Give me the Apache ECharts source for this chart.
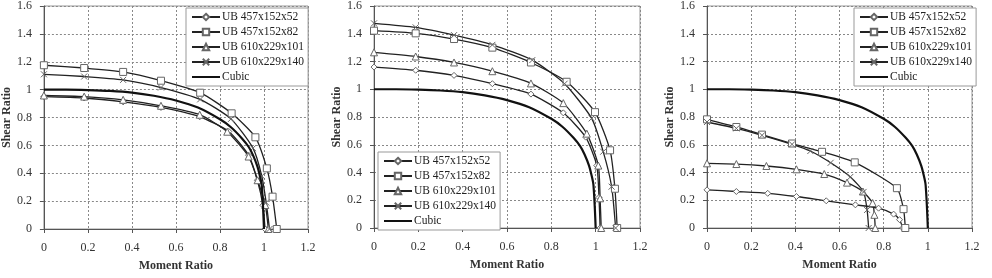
<!DOCTYPE html>
<html>
<head>
<meta charset="utf-8">
<script src="https://cdn.jsdelivr.net/npm/echarts@6/dist/echarts.min.js"></script>
<style>
  html, body { margin: 0; padding: 0; background: #fff; }
  #chart { width: 992px; height: 278px; }
</style>
</head>
<body>
<div id="chart"></div>
<script>
// series names (shared by the three panels)
const seriesNames = ['UB 457x152x52', 'UB 457x152x82', 'UB 610x229x101', 'UB 610x229x140', 'Cubic']

// cubic interaction curve
const cubicMoment = [0, 0.1, 0.2, 0.3, 0.4, 0.5, 0.6, 0.7, 0.8, 0.85, 0.9, 0.93, 0.95, 0.97, 0.98, 0.99, 1.0]
const cubicShear = [1, 1, 0.997, 0.991, 0.979, 0.956, 0.922, 0.871, 0.787, 0.73, 0.65, 0.59, 0.53, 0.45, 0.39, 0.31, 0]

// panel 1
const p1Moment52 = [0, 0.183, 0.36, 0.532, 0.708, 0.84, 0.93, 0.97, 0.995, 1.005]
const p1Shear52 = [0.95, 0.94, 0.912, 0.872, 0.805, 0.70, 0.53, 0.35, 0.17, 0]
const p1Moment82 = [0, 0.183, 0.36, 0.532, 0.71, 0.853, 0.961, 1.013, 1.039, 1.058]
const p1Shear82 = [1.175, 1.155, 1.127, 1.064, 0.978, 0.83, 0.658, 0.435, 0.232, 0]
const p1Moment101 = [0, 0.183, 0.36, 0.532, 0.708, 0.833, 0.93, 0.971, 1.006, 1.02]
const p1Shear101 = [0.958, 0.95, 0.927, 0.884, 0.82, 0.698, 0.52, 0.35, 0.172, 0]
const p1Moment140 = [0, 0.183, 0.36, 0.532, 0.71, 0.85, 0.95, 0.99, 1.01, 1.025]
const p1Shear140 = [1.11, 1.094, 1.07, 1.015, 0.93, 0.79, 0.58, 0.38, 0.19, 0]

// panel 2
const p2Moment52 = [0, 0.188, 0.361, 0.534, 0.708, 0.854, 0.955, 1.005, 1.015, 1.02]
const p2Shear52 = [1.16, 1.137, 1.10, 1.04, 0.965, 0.83, 0.655, 0.45, 0.22, 0]
const p2Moment82 = [0, 0.188, 0.361, 0.534, 0.708, 0.869, 0.997, 1.065, 1.087, 1.097]
const p2Shear82 = [1.422, 1.403, 1.362, 1.30, 1.193, 1.054, 0.835, 0.56, 0.283, 0]
const p2Moment101 = [0, 0.188, 0.361, 0.534, 0.708, 0.854, 0.96, 1.012, 1.02, 1.025]
const p2Shear101 = [1.266, 1.236, 1.193, 1.13, 1.042, 0.90, 0.68, 0.45, 0.214, 0]
const p2Moment140 = [0, 0.188, 0.361, 0.534, 0.714, 0.86, 0.982, 1.034, 1.072, 1.09]
const p2Shear140 = [1.475, 1.446, 1.39, 1.32, 1.21, 1.04, 0.79, 0.55, 0.298, 0]

// panel 3
const p3Moment52 = [0, 0.133, 0.275, 0.405, 0.54, 0.672, 0.777, 0.845, 0.872, 0.886]
const p3Shear52 = [0.275, 0.263, 0.25, 0.227, 0.196, 0.167, 0.143, 0.10, 0.06, 0]
const p3Moment82 = [0, 0.133, 0.249, 0.385, 0.521, 0.669, 0.86, 0.89, 0.898]
const p3Shear82 = [0.783, 0.728, 0.673, 0.609, 0.549, 0.473, 0.287, 0.136, 0]
const p3Moment101 = [0, 0.133, 0.269, 0.405, 0.531, 0.634, 0.706, 0.75, 0.758, 0.762]
const p3Shear101 = [0.466, 0.461, 0.447, 0.423, 0.389, 0.327, 0.263, 0.18, 0.095, 0]
const p3Moment140 = [0, 0.133, 0.249, 0.385, 0.468, 0.56, 0.649, 0.709, 0.725, 0.732]
const p3Shear140 = [0.764, 0.718, 0.668, 0.603, 0.555, 0.47, 0.368, 0.26, 0.13, 0]

// axis ticks
const momentTicks = { min: 0, max: 1.2, interval: 0.2 }
const shearTicks = { min: 0, max: 1.6, interval: 0.2 }

const panels = [
  { moment: [p1Moment52, p1Moment82, p1Moment101, p1Moment140], shear: [p1Shear52, p1Shear82, p1Shear101, p1Shear140] },
  { moment: [p2Moment52, p2Moment82, p2Moment101, p2Moment140], shear: [p2Shear52, p2Shear82, p2Shear101, p2Shear140] },
  { moment: [p3Moment52, p3Moment82, p3Moment101, p3Moment140], shear: [p3Shear52, p3Shear82, p3Shear101, p3Shear140] }
]

const symbols = ['diamond', 'rect', 'triangle', 'path://M0,0L10,10M10,0L0,10']
const symbolSizes = [6, 7, 7, 6]

const serif = '"Liberation Serif", "DejaVu Serif", serif'
const zip = (xs, ys) => xs.map((x, i) => [x, ys[i]])

// plot areas in pixels
const grids = [
  { left: 42, top: 6, width: 266, height: 223 },
  { left: 374, top: 6, width: 266, height: 222 },
  { left: 707, top: 5, width: 265, height: 223 }
]

const legendBoxes = [
  { left: 186, top: 8 },
  { left: 378, top: 152 },
  { left: 854, top: 8 }
]

const xAxes = grids.map((g, i) => ({
  type: 'value',
  gridIndex: i,
  min: momentTicks.min,
  max: momentTicks.max,
  interval: momentTicks.interval,
  name: 'Moment Ratio',
  nameLocation: 'middle',
  nameGap: 31,
  nameTextStyle: { fontFamily: serif, fontWeight: 'bold', fontSize: 12, color: '#333' },
  axisLine: { lineStyle: { color: '#555', width: 1 } },
  axisTick: { show: true, length: 4, lineStyle: { color: '#555' } },
  axisLabel: { fontFamily: serif, fontSize: 12, color: '#333', margin: 13 },
  splitLine: { show: true, lineStyle: { color: '#888', type: [2, 2], width: 1 } }
}))

const yAxes = grids.map((g, i) => ({
  type: 'value',
  gridIndex: i,
  min: shearTicks.min,
  max: shearTicks.max,
  interval: shearTicks.interval,
  name: 'Shear Ratio',
  nameLocation: 'middle',
  nameRotate: 90,
  nameGap: 30,
  nameTextStyle: { fontFamily: serif, fontWeight: 'bold', fontSize: 12, color: '#333' },
  axisLine: { show: true, lineStyle: { color: '#555', width: 1 } },
  axisTick: { show: true, length: 4, lineStyle: { color: '#555' } },
  axisLabel: { fontFamily: serif, fontSize: 12, color: '#333', margin: 12 },
  splitLine: { show: true, lineStyle: { color: '#888', type: [2, 2], width: 1 } }
}))

const series = []
panels.forEach((p, gi) => {
  p.moment.forEach((m, si) => {
    series.push({
      name: seriesNames[si],
      type: 'line',
      xAxisIndex: gi,
      yAxisIndex: gi,
      data: zip(m, p.shear[si]),
      smooth: 0.2,
      symbol: symbols[si],
      symbolSize: symbolSizes[si],
      showAllSymbol: true,
      lineStyle: { color: '#222', width: 1.3 },
      itemStyle: { color: '#fff', borderColor: '#666', borderWidth: 1 },
      emphasis: { disabled: true },
      z: 3
    })
  })
  series.push({
    name: 'Cubic',
    type: 'line',
    xAxisIndex: gi,
    yAxisIndex: gi,
    data: zip(cubicMoment, cubicShear),
    smooth: 0.3,
    symbol: 'none',
    lineStyle: { color: '#111', width: 2.2 },
    // transparent so the legend shows only the line
    itemStyle: { color: 'rgba(0,0,0,0)', borderColor: 'rgba(0,0,0,0)' },
    emphasis: { disabled: true },
    z: 4
  })
})

const legends = legendBoxes.map(b => ({
  left: b.left,
  top: b.top,
  orient: 'vertical',
  data: seriesNames,
  backgroundColor: '#fff',
  borderColor: '#999',
  borderWidth: 1,
  borderRadius: 0,
  padding: [2, 4, 2, 5],
  itemWidth: 28,
  itemHeight: 8,
  itemGap: 1,
  selectedMode: false,
  textStyle: { fontFamily: serif, fontSize: 11.5, color: '#222', padding: [0, 0, 0, -3], lineHeight: 14 }
}))

const chart = echarts.init(document.getElementById('chart'), null, { renderer: 'canvas' })
chart.setOption({
  animation: false,
  backgroundColor: '#fff',
  grid: grids.map(g => Object.assign({ show: true, borderColor: '#999', borderWidth: 1, backgroundColor: 'transparent' }, g)),
  xAxis: xAxes,
  yAxis: yAxes,
  legend: legends,
  series: series
})
</script>
</body>
</html>
